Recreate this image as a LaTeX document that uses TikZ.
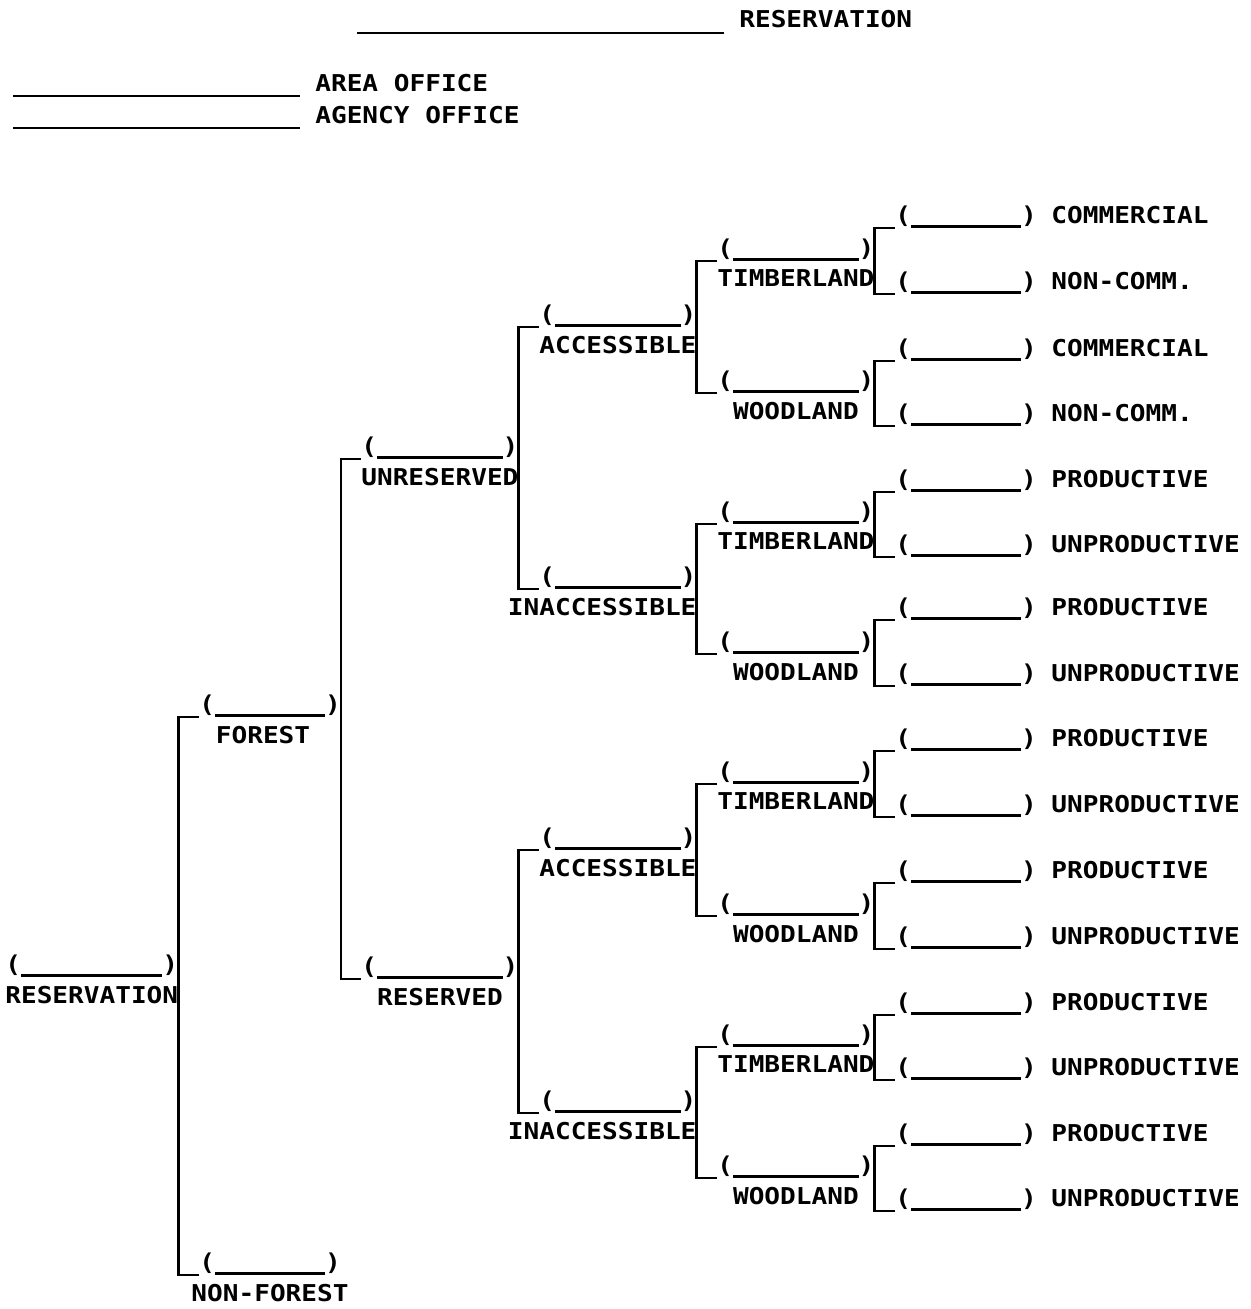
\documentclass[tikz,border=0pt]{standalone}
\usepackage{fontspec}
\usetikzlibrary{positioning}
\newfontfamily\formfont[FakeStretch=1.125]{DejaVu Sans Mono}
\newlength{\gapch}
\newcommand{\fillgap}[1]{\settowidth{\gapch}{0}(\rule[-2.3pt]{#1\gapch}{1.5pt})}

\begin{document}
\begin{tikzpicture}[x=0.02cm, y=-0.02cm,
    txt/.style={inner sep=0pt, font=\formfont\bfseries\fontsize{13.2}{15}\selectfont},
    gap/.style={txt, anchor=south west},
    lbl/.style={txt, below=0.17cm of #1},
    leaf/.style={txt, base right=0.28cm of #1},
    link/.style={line width=1.5pt},
    formline/.style={line width=1.4pt}]
    \useasboundingbox (0,0) rectangle (1251,1309);

    % heading
    \node[txt, anchor=base west] (hdRes) at (739,27.5) {RESERVATION};
    \node[txt, anchor=base west] (hdArea) at (315,91.5) {AREA OFFICE};
    \node[txt, anchor=base west] (hdAgency) at (315,123.5) {AGENCY OFFICE};
    \draw[formline] ([xshift=-0.3cm, yshift=-0.11cm]hdRes.base west) -- ++(-367,0);
    \draw[formline] ([xshift=-0.3cm, yshift=-0.09cm]hdArea.base west) -- ++(-287,0);
    \draw[formline] ([xshift=-0.3cm, yshift=-0.09cm]hdAgency.base west) -- ++(-287,0);

    % tree
    \node[gap] (bRes) at (5,977) {\fillgap{9}};
    \node[lbl=bRes] (lRes) {RESERVATION};

    \node[gap] (bFor) at (199,717) {\fillgap{7}};
    \node[lbl=bFor, xshift=-0.14cm] (lFor) {FOREST};
    \node[gap] (bNonF) at (199,1275) {\fillgap{7}};
    \node[lbl=bNonF] (lNonF) {NON-FOREST};

    \node[gap] (bUnr) at (361,459) {\fillgap{8}};
    \node[lbl=bUnr] (lUnr) {UNRESERVED};
    \node[gap] (bRsv) at (361,979) {\fillgap{8}};
    \node[lbl=bRsv] (lRsv) {RESERVED};

    \node[gap] (bUA) at (539,327) {\fillgap{8}};
    \node[lbl=bUA] (lUA) {ACCESSIBLE};
    \node[gap] (bUI) at (539,589) {\fillgap{8}};
    \node[lbl=bUI.south east, anchor=north east] (lUI) {INACCESSIBLE};
    \node[gap] (bRA) at (539,850) {\fillgap{8}};
    \node[lbl=bRA] (lRA) {ACCESSIBLE};
    \node[gap] (bRI) at (539,1113) {\fillgap{8}};
    \node[lbl=bRI.south east, anchor=north east] (lRI) {INACCESSIBLE};

    \node[gap] (bUAT) at (717,261) {\fillgap{8}};
    \node[lbl=bUAT] (lUAT) {TIMBERLAND};
    \node[gap] (bUAW) at (717,393) {\fillgap{8}};
    \node[lbl=bUAW] (lUAW) {WOODLAND};
    \node[gap] (bUIT) at (717,524) {\fillgap{8}};
    \node[lbl=bUIT] (lUIT) {TIMBERLAND};
    \node[gap] (bUIW) at (717,654) {\fillgap{8}};
    \node[lbl=bUIW] (lUIW) {WOODLAND};
    \node[gap] (bRAT) at (717,784) {\fillgap{8}};
    \node[lbl=bRAT] (lRAT) {TIMBERLAND};
    \node[gap] (bRAW) at (717,916) {\fillgap{8}};
    \node[lbl=bRAW] (lRAW) {WOODLAND};
    \node[gap] (bRIT) at (717,1047) {\fillgap{8}};
    \node[lbl=bRIT] (lRIT) {TIMBERLAND};
    \node[gap] (bRIW) at (717,1178) {\fillgap{8}};
    \node[lbl=bRIW] (lRIW) {WOODLAND};

    \node[gap] (bUAT1) at (895,228) {\fillgap{7}};
    \node[leaf=bUAT1] (lUAT1) {COMMERCIAL};
    \node[gap] (bUAT2) at (895,294) {\fillgap{7}};
    \node[leaf=bUAT2] (lUAT2) {NON-COMM.};
    \node[gap] (bUAW1) at (895,361) {\fillgap{7}};
    \node[leaf=bUAW1] (lUAW1) {COMMERCIAL};
    \node[gap] (bUAW2) at (895,426) {\fillgap{7}};
    \node[leaf=bUAW2] (lUAW2) {NON-COMM.};
    \node[gap] (bUIT1) at (895,492) {\fillgap{7}};
    \node[leaf=bUIT1] (lUIT1) {PRODUCTIVE};
    \node[gap] (bUIT2) at (895,557) {\fillgap{7}};
    \node[leaf=bUIT2] (lUIT2) {UNPRODUCTIVE};
    \node[gap] (bUIW1) at (895,620) {\fillgap{7}};
    \node[leaf=bUIW1] (lUIW1) {PRODUCTIVE};
    \node[gap] (bUIW2) at (895,686) {\fillgap{7}};
    \node[leaf=bUIW2] (lUIW2) {UNPRODUCTIVE};
    \node[gap] (bRAT1) at (895,751) {\fillgap{7}};
    \node[leaf=bRAT1] (lRAT1) {PRODUCTIVE};
    \node[gap] (bRAT2) at (895,817) {\fillgap{7}};
    \node[leaf=bRAT2] (lRAT2) {UNPRODUCTIVE};
    \node[gap] (bRAW1) at (895,883) {\fillgap{7}};
    \node[leaf=bRAW1] (lRAW1) {PRODUCTIVE};
    \node[gap] (bRAW2) at (895,949) {\fillgap{7}};
    \node[leaf=bRAW2] (lRAW2) {UNPRODUCTIVE};
    \node[gap] (bRIT1) at (895,1015) {\fillgap{7}};
    \node[leaf=bRIT1] (lRIT1) {PRODUCTIVE};
    \node[gap] (bRIT2) at (895,1080) {\fillgap{7}};
    \node[leaf=bRIT2] (lRIT2) {UNPRODUCTIVE};
    \node[gap] (bRIW1) at (895,1146) {\fillgap{7}};
    \node[leaf=bRIW1] (lRIW1) {PRODUCTIVE};
    \node[gap] (bRIW2) at (895,1211) {\fillgap{7}};
    \node[leaf=bRIW2] (lRIW2) {UNPRODUCTIVE};

    % brackets
    \draw[link] (bFor.south west) -| (bRes.east) |- (bNonF.south west);
    \draw[link] (bUnr.south west) -| (bFor.east) |- (bRsv.south west);
    \draw[link] (bUA.south west) -| (bUnr.east) |- (bUI.south west);
    \draw[link] (bRA.south west) -| (bRsv.east) |- (bRI.south west);
    \draw[link] (bUAT.south west) -| (bUA.east) |- (bUAW.south west);
    \draw[link] (bUIT.south west) -| (bUI.east) |- (bUIW.south west);
    \draw[link] (bRAT.south west) -| (bRA.east) |- (bRAW.south west);
    \draw[link] (bRIT.south west) -| (bRI.east) |- (bRIW.south west);
    \draw[link] (bUAT1.south west) -| (bUAT.east) |- (bUAT2.south west);
    \draw[link] (bUAW1.south west) -| (bUAW.east) |- (bUAW2.south west);
    \draw[link] (bUIT1.south west) -| (bUIT.east) |- (bUIT2.south west);
    \draw[link] (bUIW1.south west) -| (bUIW.east) |- (bUIW2.south west);
    \draw[link] (bRAT1.south west) -| (bRAT.east) |- (bRAT2.south west);
    \draw[link] (bRAW1.south west) -| (bRAW.east) |- (bRAW2.south west);
    \draw[link] (bRIT1.south west) -| (bRIT.east) |- (bRIT2.south west);
    \draw[link] (bRIW1.south west) -| (bRIW.east) |- (bRIW2.south west);
\end{tikzpicture}
\end{document}
